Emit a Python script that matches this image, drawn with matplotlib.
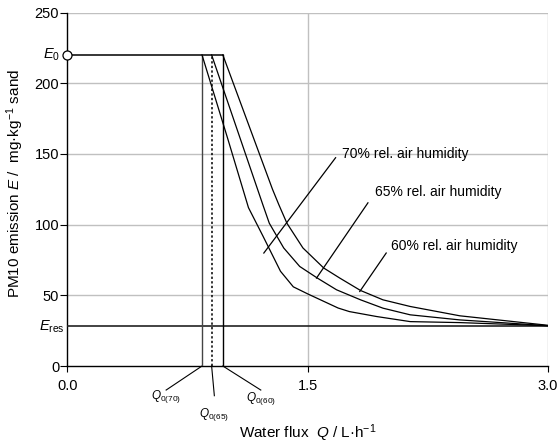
import matplotlib
matplotlib.use("Agg")
import matplotlib.pyplot as plt

plt.rcParams['font.family'] = ['Liberation Sans', 'DejaVu Sans']
plt.rcParams['mathtext.fontset'] = 'custom'
plt.rcParams['mathtext.rm'] = 'Liberation Sans'
plt.rcParams['mathtext.it'] = 'Liberation Sans:italic'

# Data
E0 = 220
E_res = 28
Q0 = {"70": 0.84, "65": 0.90, "60": 0.97}

q70 = [0.84, 1.00, 1.13, 1.22, 1.33, 1.41, 1.50, 1.69, 1.76, 1.93, 2.14, 2.45, 3.00]
e70 = [220, 161, 112, 92, 67, 56, 51, 41, 38.5, 35, 31.4, 30.7, 28.5]
q65 = [0.90, 1.22, 1.26, 1.35, 1.45, 1.56, 1.68, 1.83, 1.97, 2.14, 2.45, 3.00]
e65 = [220, 114, 101, 83.5, 70.4, 62.2, 53.9, 46.8, 40.9, 36.2, 32.6, 28.5]
q60 = [0.97, 1.28, 1.32, 1.37, 1.47, 1.60, 1.70, 1.83, 1.97, 2.14, 2.45, 3.00]
e60 = [220, 125, 114, 101, 83.5, 69.3, 62.2, 53.4, 46.8, 42.1, 35.5, 28.8]

xticks = [0.0, 1.5, 3.0]
xticklabels = ["0.0", "1.5", "3.0"]
yticks = [0, 50, 100, 150, 200, 250]

fig = plt.figure(figsize=(5.6, 4.45), dpi=100)
ax = fig.add_axes([0.1205, 0.1775, 0.858, 0.7944])
ax.set_xlim(0, 3.0)
ax.set_ylim(0, 250)

# grid
for y in yticks[1:]:
    ax.axhline(y, color='#c0c0c0', lw=1, zorder=0)
for x in xticks[1:]:
    ax.axvline(x, color='#c0c0c0', lw=1, zorder=0)

for s in ['top', 'right']:
    ax.spines[s].set_visible(False)
for s in ['left', 'bottom']:
    ax.spines[s].set_color('black')
    ax.spines[s].set_linewidth(1)

ax.set_xticks(xticks)
ax.set_xticklabels(xticklabels)
ax.set_yticks(yticks)
ax.tick_params(axis='x', direction='out', length=4, labelsize=10.5, pad=5)
ax.tick_params(axis='y', direction='out', length=5, labelsize=10.5, pad=1)

# E0 and E_res lines
ax.plot([0, Q0["60"]], [E0, E0], color='black', lw=1.1, zorder=3)
ax.plot([0, 3.0], [E_res, E_res], color='#222222', lw=1.2, zorder=3)
ax.plot([0], [E0], marker='o', mfc='white', mec='black', ms=6.5, mew=0.9,
        clip_on=False, zorder=5)

# Q0 vertical lines
ax.plot([Q0["70"], Q0["70"]], [0, E0], color='#444444', lw=1.0, zorder=3)
ax.plot([Q0["65"], Q0["65"]], [0, E0], color='black', lw=1.1, ls=(0, (1.5, 1.5)), zorder=3)
ax.plot([Q0["60"], Q0["60"]], [0, E0], color='black', lw=1.0, zorder=3)

# curves
for q, e in [(q70, e70), (q65, e65), (q60, e60)]:
    ax.plot(q, e, color='black', lw=0.9, zorder=3)

# annotations for curves
ax.plot([1.226, 1.674], [79.9, 147.3], color='black', lw=0.9)
ax.text(1.713, 149.6, "70% rel. air humidity", fontsize=10, va='center', ha='left')
ax.plot([1.555, 1.876], [62.2, 115.4], color='black', lw=0.9)
ax.text(1.918, 123.4, "65% rel. air humidity", fontsize=10, va='center', ha='left')
ax.plot([1.825, 1.99], [52.7, 79.9], color='black', lw=0.9)
ax.text(2.022, 85, "60% rel. air humidity", fontsize=10, va='center', ha='left')

# E labels on left
ax.text(-0.045, E0, r"$\mathit{E}_{0}$", fontsize=10.5, ha='right', va='center')
ax.text(-0.015, E_res, r"$\mathit{E}_{\mathrm{res}}$", fontsize=10.5, ha='right', va='center')

# Q0 labels below axis
ax.plot([Q0["70"], 0.616], [0, -17], color='black', lw=0.8, clip_on=False)
ax.text(0.613, -21.5, r"$\mathit{Q}_{0(70)}$", fontsize=8.5, ha='center', va='center')
ax.plot([Q0["65"], 0.917], [0, -21], color='black', lw=0.8, clip_on=False)
ax.text(0.914, -34, r"$\mathit{Q}_{0(65)}$", fontsize=8.5, ha='center', va='center')
ax.plot([Q0["60"], 1.207], [0, -17], color='black', lw=0.8, clip_on=False)
ax.text(1.209, -23, r"$\mathit{Q}_{0(60)}$", fontsize=8.5, ha='center', va='center')

ax.set_xlabel(r"Water flux  $\mathit{Q}$ / L·h$^{-1}$", fontsize=11, va='center')
ax.xaxis.set_label_coords(0.5, -0.19)
ax.set_ylabel(r"PM10 emission $\mathit{E}$ /  mg·kg$^{-1}$ sand", fontsize=11, va='center')
ax.yaxis.set_label_coords(-0.108, 0.515)

fig.savefig("out.png", dpi=100)
